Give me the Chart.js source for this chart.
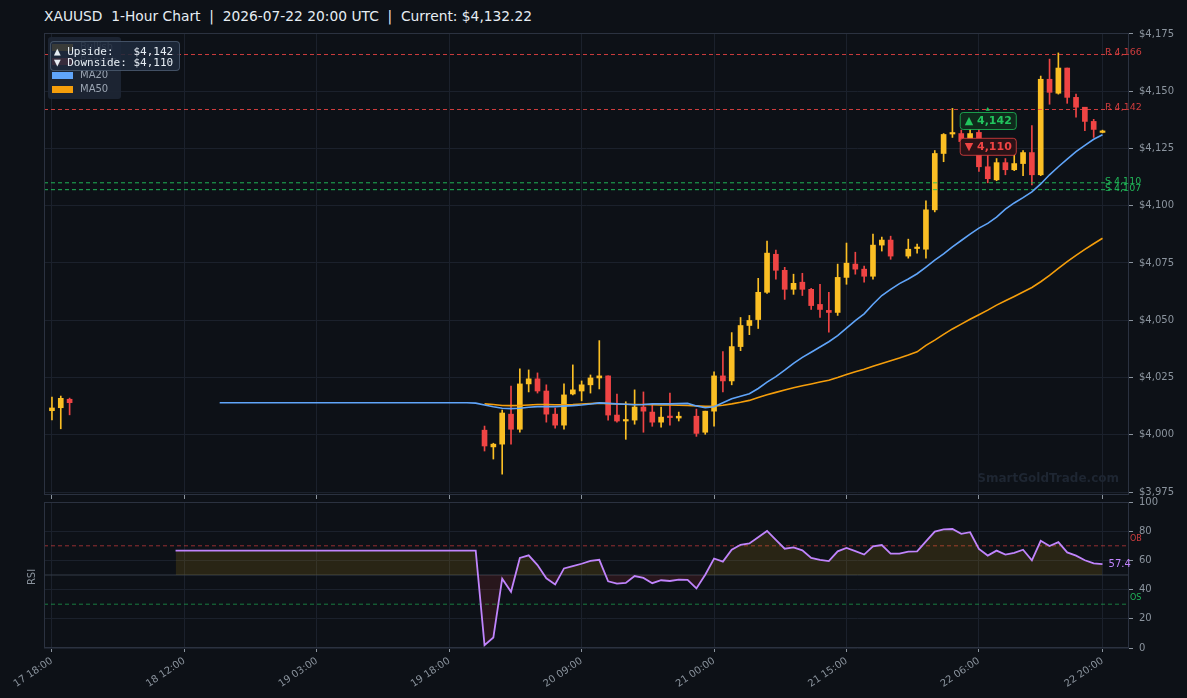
<!DOCTYPE html>
<html>
<head>
<meta charset="utf-8">
<script src="https://cdn.jsdelivr.net/npm/chart.js@4.4.1/dist/chart.umd.min.js"></script>
<style>
  html, body { margin: 0; padding: 0; background: #0d1117; }
  body { width: 1187px; height: 698px; position: relative; overflow: hidden; font-family: 'DejaVu Sans', sans-serif; }
  #title { position: absolute; left: 44px; top: 8px; font-size: 13.8px; line-height: 17px; color: #e6edf3; white-space: pre; }
  #mainChart { position: absolute; left: 0; top: 0; }
  #rsiChart { position: absolute; left: 0; top: 490px; }
  #legend { position: absolute; left: 48px; top: 37px; width: 73px; height: 62px; background: rgba(30, 38, 52, 0.95); border-radius: 3px; }
  #legend .item { position: absolute; left: 4px; height: 14px; font-size: 10px; line-height: 14px; color: #9aa4b2; }
  #legend .sw { position: absolute; left: 0; top: 3.5px; width: 21px; height: 7px; }
  #legend .lbl { position: absolute; left: 28px; top: 0; white-space: nowrap; }
  #info { position: absolute; left: 50px; top: 41px; width: 130px; height: 30px; background: rgba(30, 41, 59, 0.88);
          border: 1px solid rgba(100, 116, 139, 0.55); border-radius: 4px; font-family: 'DejaVu Sans Mono', monospace;
          font-size: 11px; line-height: 11.3px; color: #e6edf3; white-space: pre; padding: 4px 0 0 3px; box-sizing: border-box; }
</style>
</head>
<body>
<div id="title">XAUUSD  1-Hour Chart  |  2026-07-22 20:00 UTC  |  Current: $4,132.22</div>
<canvas id="mainChart" width="1187" height="507"></canvas>
<canvas id="rsiChart" width="1187" height="208"></canvas>
<div id="legend">
  <div class="item" style="top:3px"><span class="sw" style="background:#fbbf24"></span><span class="lbl">Bullish</span></div>
  <div class="item" style="top:17px"><span class="sw" style="background:#ef4444"></span><span class="lbl">Bearish</span></div>
  <div class="item" style="top:31px"><span class="sw" style="background:#60a5fa"></span><span class="lbl">MA20</span></div>
  <div class="item" style="top:45px"><span class="sw" style="background:#f59e0b"></span><span class="lbl">MA50</span></div>
</div>
<div id="info">▲ Upside:   $4,142
▼ Downside: $4,110</div>
<script>
// x positions are bar numbers (1 per hour bar)
const xMin = -0.9, xMax = 122;
const tickIdx = [0, 15, 30, 45, 60, 75, 90, 105, 119];
const tickText = ['17 18:00', '18 12:00', '19 03:00', '19 18:00', '20 09:00', '21 00:00', '21 15:00', '22 06:00', '22 20:00'];
const priceTicks = [3975, 4000, 4025, 4050, 4075, 4100, 4125, 4150, 4175];

const candleIdx = [0, 1, 2,
  49, 50, 51, 52, 53, 54, 55, 56, 57, 58, 59, 60, 61, 62, 63, 64, 65, 66, 67, 68, 69, 70, 71,
  73, 74, 75, 76, 77, 78, 79, 80, 81, 82, 83, 84, 85, 86, 87, 88, 89, 90, 91, 92, 93, 94, 95,
  97, 98, 99, 100, 101, 102, 103, 104, 105, 106, 107, 108, 109, 110, 111, 112, 113, 114, 115, 116, 117, 118, 119];
const opens = [4010.5, 4011.8, 4015.5,
  4002.0, 3994.7, 3995.9, 4009.0, 4002.4, 4022.2, 4024.4, 4019.1, 4009.0, 4004.2, 4017.8, 4019.1, 4021.8, 4024.8, 4025.7, 4008.6, 4006.0, 4006.4, 4012.1, 4009.9, 4005.5, 4007.9, 4007.3,
  4008.1, 4001.1, 4010.3, 4025.7, 4023.5, 4038.5, 4047.7, 4050.3, 4062.2, 4078.8, 4071.8, 4063.5, 4066.6, 4063.5, 4056.9, 4054.3, 4053.4, 4068.7, 4074.5, 4072.3, 4069.2, 4082.8, 4085.0,
  4078.0, 4081.3, 4081.0, 4098.2, 4122.8, 4131.3, 4131.5, 4128.5, 4132.0, 4117.0, 4111.3, 4118.8, 4115.7, 4118.4, 4123.2, 4113.5, 4155.2, 4149.1, 4160.1, 4147.3, 4143.0, 4136.8, 4132.0];
const highs = [4016.5, 4016.9, 4016.0,
  4003.8, 3996.3, 4010.8, 4021.3, 4028.8, 4028.3, 4027.0, 4021.8, 4011.7, 4022.2, 4030.5, 4023.5, 4026.1, 4041.1, 4025.7, 4017.8, 4014.4, 4019.6, 4018.7, 4013.0, 4012.1, 4018.2, 4009.9,
  4011.2, 4010.3, 4027.5, 4036.3, 4044.6, 4051.2, 4052.1, 4068.3, 4084.6, 4080.6, 4073.1, 4070.1, 4070.5, 4063.9, 4065.7, 4062.2, 4074.5, 4083.7, 4079.7, 4073.6, 4087.6, 4086.3, 4086.7,
  4085.4, 4083.2, 4102.1, 4124.1, 4131.5, 4142.5, 4133.0, 4133.5, 4133.5, 4121.9, 4120.6, 4120.6, 4122.3, 4124.1, 4135.0, 4156.6, 4164.0, 4166.7, 4160.1, 4148.7, 4143.0, 4137.7, 4133.0];
const lows = [4006.5, 4002.6, 4008.7,
  3992.9, 3989.4, 3982.8, 3995.9, 4001.1, 4018.7, 4018.2, 4005.5, 4002.9, 4002.4, 4017.4, 4014.8, 4018.2, 4020.0, 4006.4, 4005.5, 3998.0, 4004.6, 4001.1, 4003.7, 4003.3, 4004.2, 4006.0,
  3999.3, 4000.2, 4003.7, 4018.7, 4021.8, 4036.7, 4043.7, 4046.4, 4061.7, 4067.9, 4059.1, 4061.3, 4060.8, 4054.7, 4051.2, 4044.8, 4052.1, 4065.7, 4070.1, 4066.6, 4067.9, 4080.2, 4076.6,
  4077.1, 4079.3, 4077.1, 4097.3, 4119.2, 4129.8, 4126.0, 4127.0, 4115.0, 4110.0, 4110.9, 4113.5, 4115.3, 4113.1, 4109.1, 4113.1, 4144.3, 4148.7, 4144.7, 4138.6, 4132.8, 4129.8, 4131.8];
const closes = [4011.7, 4015.9, 4014.0,
  3995.1, 3995.9, 4009.5, 4002.4, 4022.2, 4024.4, 4019.1, 4009.0, 4004.2, 4017.4, 4019.6, 4021.8, 4024.8, 4025.7, 4008.6, 4006.0, 4006.4, 4012.1, 4010.3, 4005.5, 4007.7, 4007.5, 4008.1,
  4000.6, 4010.3, 4025.7, 4023.5, 4038.5, 4047.7, 4049.9, 4062.2, 4079.3, 4071.8, 4063.5, 4066.1, 4063.5, 4056.4, 4054.7, 4053.4, 4068.7, 4074.9, 4072.3, 4069.2, 4082.8, 4085.0, 4078.0,
  4081.0, 4081.7, 4098.2, 4122.8, 4131.1, 4131.7, 4128.0, 4131.5, 4117.0, 4111.8, 4118.8, 4115.7, 4118.4, 4123.2, 4113.5, 4155.2, 4149.5, 4160.1, 4147.3, 4143.0, 4136.8, 4133.3, 4132.22];

const ma20Start = 19;
const ma20 = [
  4014.0, 4014.0, 4014.0, 4014.0, 4014.0, 4014.0, 4014.0, 4014.0, 4014.0, 4014.0,
  4014.0, 4014.0, 4014.0, 4014.0, 4014.0, 4014.0, 4014.0, 4014.0, 4014.0, 4014.0,
  4014.0, 4014.0, 4014.0, 4014.0, 4014.0, 4014.0, 4014.0, 4014.0, 4014.0,
  4013.8, 4013.0, 4012.2, 4011.6, 4011.4, 4011.6, 4012.0, 4012.3, 4012.3, 4012.3,
  4012.5, 4012.7, 4013.0, 4013.4, 4013.9, 4013.7, 4013.5, 4013.3, 4013.1, 4013.2,
  4013.5, 4013.5, 4013.5, 4013.6, 4013.7, 4012.6, 4011.8, 4012.2, 4014.0, 4015.7,
  4016.8, 4017.9, 4020.2, 4023.0, 4025.4, 4028.2, 4031.2, 4033.8, 4036.0, 4038.3,
  4040.6, 4043.3, 4046.6, 4049.8, 4052.8, 4057.0, 4060.8, 4063.5, 4066.0, 4068.0,
  4070.3, 4073.2, 4076.2, 4079.0, 4082.0, 4084.8, 4087.6, 4090.2, 4092.3, 4095.0,
  4098.5, 4101.2, 4103.5, 4106.0, 4109.5, 4113.5, 4117.0, 4120.3, 4123.6, 4126.3,
  4129.0, 4131.0];

const ma50Start = 49;
const ma50 = [
  4013.5, 4013.2, 4012.8, 4012.7, 4012.8, 4013.0, 4013.2, 4013.2, 4013.1, 4013.1,
  4013.2, 4013.4, 4013.6, 4013.8, 4013.6, 4013.4, 4013.3, 4013.2, 4013.2, 4013.1,
  4013.0, 4013.0, 4012.9, 4012.8, 4012.6, 4012.4, 4012.5, 4012.9, 4013.5, 4014.2,
  4015.0, 4016.3, 4017.5, 4018.5, 4019.5, 4020.5, 4021.4, 4022.2, 4023.0, 4023.8,
  4025.0, 4026.3, 4027.5, 4028.6, 4029.9, 4031.1, 4032.3, 4033.5, 4034.8, 4036.2,
  4039.0, 4041.3, 4043.8, 4046.2, 4048.3, 4050.4, 4052.4, 4054.4, 4056.6, 4058.5,
  4060.4, 4062.3, 4064.3, 4066.8, 4069.6, 4072.6, 4075.6, 4078.3, 4080.9, 4083.4,
  4085.8];

const rsiStart = 14;
const rsi = [
  66.7, 66.7, 66.7, 66.7, 66.7, 66.7, 66.7, 66.7, 66.7, 66.7,
  66.7, 66.7, 66.7, 66.7, 66.7, 66.7, 66.7, 66.7, 66.7, 66.7,
  66.7, 66.7, 66.7, 66.7, 66.7, 66.7, 66.7, 66.7, 66.7, 66.7,
  66.7, 66.7, 66.7, 66.7, 66.7,
  2.0, 7.2, 47.5, 38.5, 61.7, 63.5, 56.8, 47.7, 43.5, 54.5, 56.1,
  57.7, 59.7, 60.4, 45.7, 44.1, 44.6, 49.3, 48.0, 44.4, 46.4,
  45.9, 46.8, 46.6, 40.8, 50.2, 61.3, 59.2, 67.3, 70.7, 71.6,
  75.9, 80.2, 74.1, 68.0, 68.9, 66.9, 61.7, 60.4, 59.5, 66.2,
  68.5, 66.4, 64.0, 69.6, 70.5, 64.6, 64.6, 66.0, 66.2, 73.0,
  79.7, 81.3, 81.5, 78.2, 79.3, 67.8, 63.3, 66.7, 64.0, 65.1,
  67.3, 60.1, 73.4, 69.8, 72.5, 65.5, 63.3, 60.1, 57.9, 57.4];

const resistance = [4166, 4142];
const support = [4110, 4107];
const upside = 4142, downside = 4110;
const targetBar = 106;
const rsiOB = 70, rsiOS = 30, rsiMid = 50;

const UP = '#fbbf24', DOWN = '#ef4444';
const GRID = '#1b212c', BORDER = '#2b3240', TICK = '#8b949e', TXT = '#8b949e';
const FONT = "'DejaVu Sans', sans-serif";

const fmt = v => v.toLocaleString('en-US');
const toPts = (start, arr) => arr.map((y, k) => ({ x: start + k, y }));
const flat = (y) => [{ x: xMin, y }, { x: xMax, y }];

const candleColors = candleIdx.map((_, k) => closes[k] >= opens[k] ? UP : DOWN);

function roundBox(ctx, x, y, w, h, r) {
    ctx.beginPath();
    ctx.moveTo(x + r, y);
    ctx.arcTo(x + w, y, x + w, y + h, r);
    ctx.arcTo(x + w, y + h, x, y + h, r);
    ctx.arcTo(x, y + h, x, y, r);
    ctx.arcTo(x, y, x + w, y, r);
    ctx.closePath();
}

function targetTag(ctx, text, cx, cy, fill, stroke, color) {
    ctx.font = "bold 11px " + FONT;
    const w = ctx.measureText(text).width + 9;
    const h = 17;
    roundBox(ctx, cx - w / 2 + 0.5, cy - h / 2 + 0.5, w, h, 3);
    ctx.fillStyle = fill;
    ctx.fill();
    ctx.strokeStyle = stroke;
    ctx.lineWidth = 1;
    ctx.stroke();
    ctx.fillStyle = color;
    ctx.textAlign = 'center';
    ctx.textBaseline = 'middle';
    ctx.fillText(text, cx + 0.5, cy + 1);
}

const mainDecor = {
    id: 'mainDecor',
    beforeDatasetsDraw(chart) {
        const { ctx, chartArea: a } = chart;
        ctx.save();
        ctx.font = "bold 12px " + FONT;
        ctx.fillStyle = '#1e2632';
        ctx.textAlign = 'right';
        ctx.textBaseline = 'middle';
        ctx.fillText('SmartGoldTrade.com', a.right - 10, a.bottom - 16.5);
        ctx.restore();
    },
    afterDraw(chart) {
        const { ctx, chartArea: a, scales: { x, y } } = chart;
        ctx.save();
        ctx.strokeStyle = BORDER;
        ctx.lineWidth = 1;
        ctx.strokeRect(a.left + 0.5, a.top + 0.5, a.width - 1, a.height - 1);

        ctx.font = "9.5px " + FONT;
        ctx.textAlign = 'left';
        ctx.textBaseline = 'middle';
        ctx.fillStyle = 'rgba(239,68,68,0.85)';
        resistance.forEach(v => ctx.fillText('R ' + fmt(v), a.right - 24, y.getPixelForValue(v) - 1.5));
        ctx.fillStyle = 'rgba(34,197,94,0.9)';
        support.forEach(v => ctx.fillText('S ' + fmt(v), a.right - 24, y.getPixelForValue(v) - 1.5));

        const cx = x.getPixelForValue(targetBar);
        targetTag(ctx, '▲ ' + fmt(upside), cx, y.getPixelForValue(upside) + 11, '#0f2a1c', 'rgba(34,197,94,0.75)', '#22c55e');
        targetTag(ctx, '▼ ' + fmt(downside), cx, y.getPixelForValue(downside) - 36.5, '#2a1217', 'rgba(239,68,68,0.75)', '#ef4444');
        ctx.restore();
    }
};

const rsiDecor = {
    id: 'rsiDecor',
    afterDraw(chart) {
        const { ctx, chartArea: a, scales: { x, y } } = chart;
        ctx.save();
        ctx.strokeStyle = BORDER;
        ctx.lineWidth = 1;
        ctx.strokeRect(a.left + 0.5, a.top + 0.5, a.width - 1, a.height - 1);

        ctx.font = "8px " + FONT;
        ctx.textAlign = 'left';
        ctx.textBaseline = 'middle';
        ctx.fillStyle = 'rgba(239,68,68,0.85)';
        ctx.fillText('OB', a.right + 1, y.getPixelForValue(rsiOB) - 6.5);
        ctx.fillStyle = 'rgba(34,197,94,0.9)';
        ctx.fillText('OS', a.right + 1, y.getPixelForValue(rsiOS) - 6);

        const last = rsi[rsi.length - 1];
        ctx.font = "10px " + FONT;
        ctx.fillStyle = '#c084fc';
        ctx.fillText(last.toFixed(1), x.getPixelForValue(rsiStart + rsi.length - 1) + 6, y.getPixelForValue(last));

        ctx.translate(32.5, (a.top + a.bottom) / 2 + 2);
        ctx.rotate(-Math.PI / 2);
        ctx.textAlign = 'center';
        ctx.font = "10px " + FONT;
        ctx.fillStyle = TXT;
        ctx.fillText('RSI', 0, 0);
        ctx.restore();
    }
};

const xAxis = (showLabels, height) => ({
    type: 'linear',
    min: xMin,
    max: xMax,
    offset: false,
    grid: { color: GRID, offset: false, tickLength: 4, tickColor: TICK },
    border: { display: false },
    ticks: {
        display: showLabels,
        autoSkip: false,
        maxRotation: 34,
        minRotation: 34,
        padding: 3,
        color: TXT,
        font: { family: FONT, size: 10 },
        callback: (v, i) => tickText[i]
    },
    afterBuildTicks: ax => { ax.ticks = tickIdx.map(v => ({ value: v })); },
    afterFit: ax => { ax.height = height; }
});

new Chart(document.getElementById('mainChart').getContext('2d'), {
    type: 'bar',
    data: {
        datasets: [
            {
                type: 'line', label: 'MA20', data: toPts(ma20Start, ma20),
                borderColor: '#60a5fa', borderWidth: 1.6, pointRadius: 0, order: 0
            },
            {
                type: 'line', label: 'MA50', data: toPts(ma50Start, ma50),
                borderColor: '#f59e0b', borderWidth: 1.6, pointRadius: 0, order: 0
            },
            ...resistance.map(v => ({
                type: 'line', data: flat(v), borderColor: 'rgba(239,68,68,0.85)',
                borderWidth: 1, borderDash: [4, 3], pointRadius: 0, order: 1
            })),
            ...support.map(v => ({
                type: 'line', data: flat(v), borderColor: 'rgba(34,197,94,0.9)',
                borderWidth: 1, borderDash: [4, 3], pointRadius: 0, order: 1
            })),
            {
                type: 'line', data: [{ x: targetBar, y: upside }], showLine: false,
                pointStyle: 'triangle', pointRadius: 2.5, pointBackgroundColor: '#22c55e',
                pointBorderWidth: 0, order: 1
            },
            {
                label: 'Body', data: candleIdx.map((x, k) => ({ x, y: [opens[k], closes[k]] })),
                backgroundColor: candleColors, borderWidth: 0, barThickness: 5,
                minBarLength: 1.5, grouped: false, order: 2
            },
            {
                label: 'Wick', data: candleIdx.map((x, k) => ({ x, y: [lows[k], highs[k]] })),
                backgroundColor: candleColors, borderWidth: 0, barThickness: 1,
                grouped: false, order: 3
            }
        ]
    },
    options: {
        responsive: false,
        animation: false,
        devicePixelRatio: 1,
        layout: { padding: { left: 44, top: 33, right: 0, bottom: 0 } },
        plugins: { legend: { display: false }, tooltip: { enabled: false } },
        scales: {
            x: xAxis(false, 5.5),
            y: {
                position: 'right',
                min: 3973.7,
                max: 4175.4,
                grid: { color: GRID, tickLength: 4, tickColor: TICK },
                border: { display: false },
                ticks: { color: TXT, padding: 6, font: { family: FONT, size: 10 }, callback: v => '$' + fmt(v) },
                afterBuildTicks: ax => { ax.ticks = priceTicks.map(v => ({ value: v })); },
                afterFit: ax => { ax.width = 58; }
            }
        }
    },
    plugins: [mainDecor]
});

new Chart(document.getElementById('rsiChart').getContext('2d'), {
    type: 'line',
    data: {
        datasets: [
            {
                label: 'RSI', data: toPts(rsiStart, rsi),
                borderColor: '#c084fc', borderWidth: 1.8, pointRadius: 0,
                fill: { target: { value: rsiMid }, above: 'rgba(234,179,8,0.13)', below: 'rgba(239,68,68,0.12)' }
            },
            {
                data: flat(rsiOB), borderColor: 'rgba(239,68,68,0.6)', borderWidth: 1,
                borderDash: [4, 3], pointRadius: 0, fill: false
            },
            {
                data: flat(rsiOS), borderColor: 'rgba(34,197,94,0.6)', borderWidth: 1,
                borderDash: [4, 3], pointRadius: 0, fill: false
            },
            {
                data: flat(rsiMid), borderColor: '#353c48', borderWidth: 1, pointRadius: 0, fill: false
            }
        ]
    },
    options: {
        responsive: false,
        animation: false,
        devicePixelRatio: 1,
        layout: { padding: { left: 44, top: 9, right: 0, bottom: 0 } },
        plugins: { legend: { display: false }, tooltip: { enabled: false } },
        scales: {
            x: xAxis(true, 50),
            y: {
                position: 'right',
                min: 0,
                max: 100,
                grid: { color: GRID, tickLength: 4, tickColor: TICK },
                border: { display: false },
                ticks: { stepSize: 20, color: TXT, padding: 6, font: { family: FONT, size: 10 } },
                afterFit: ax => { ax.width = 58; }
            }
        }
    },
    plugins: [rsiDecor]
});
</script>
</body>
</html>
